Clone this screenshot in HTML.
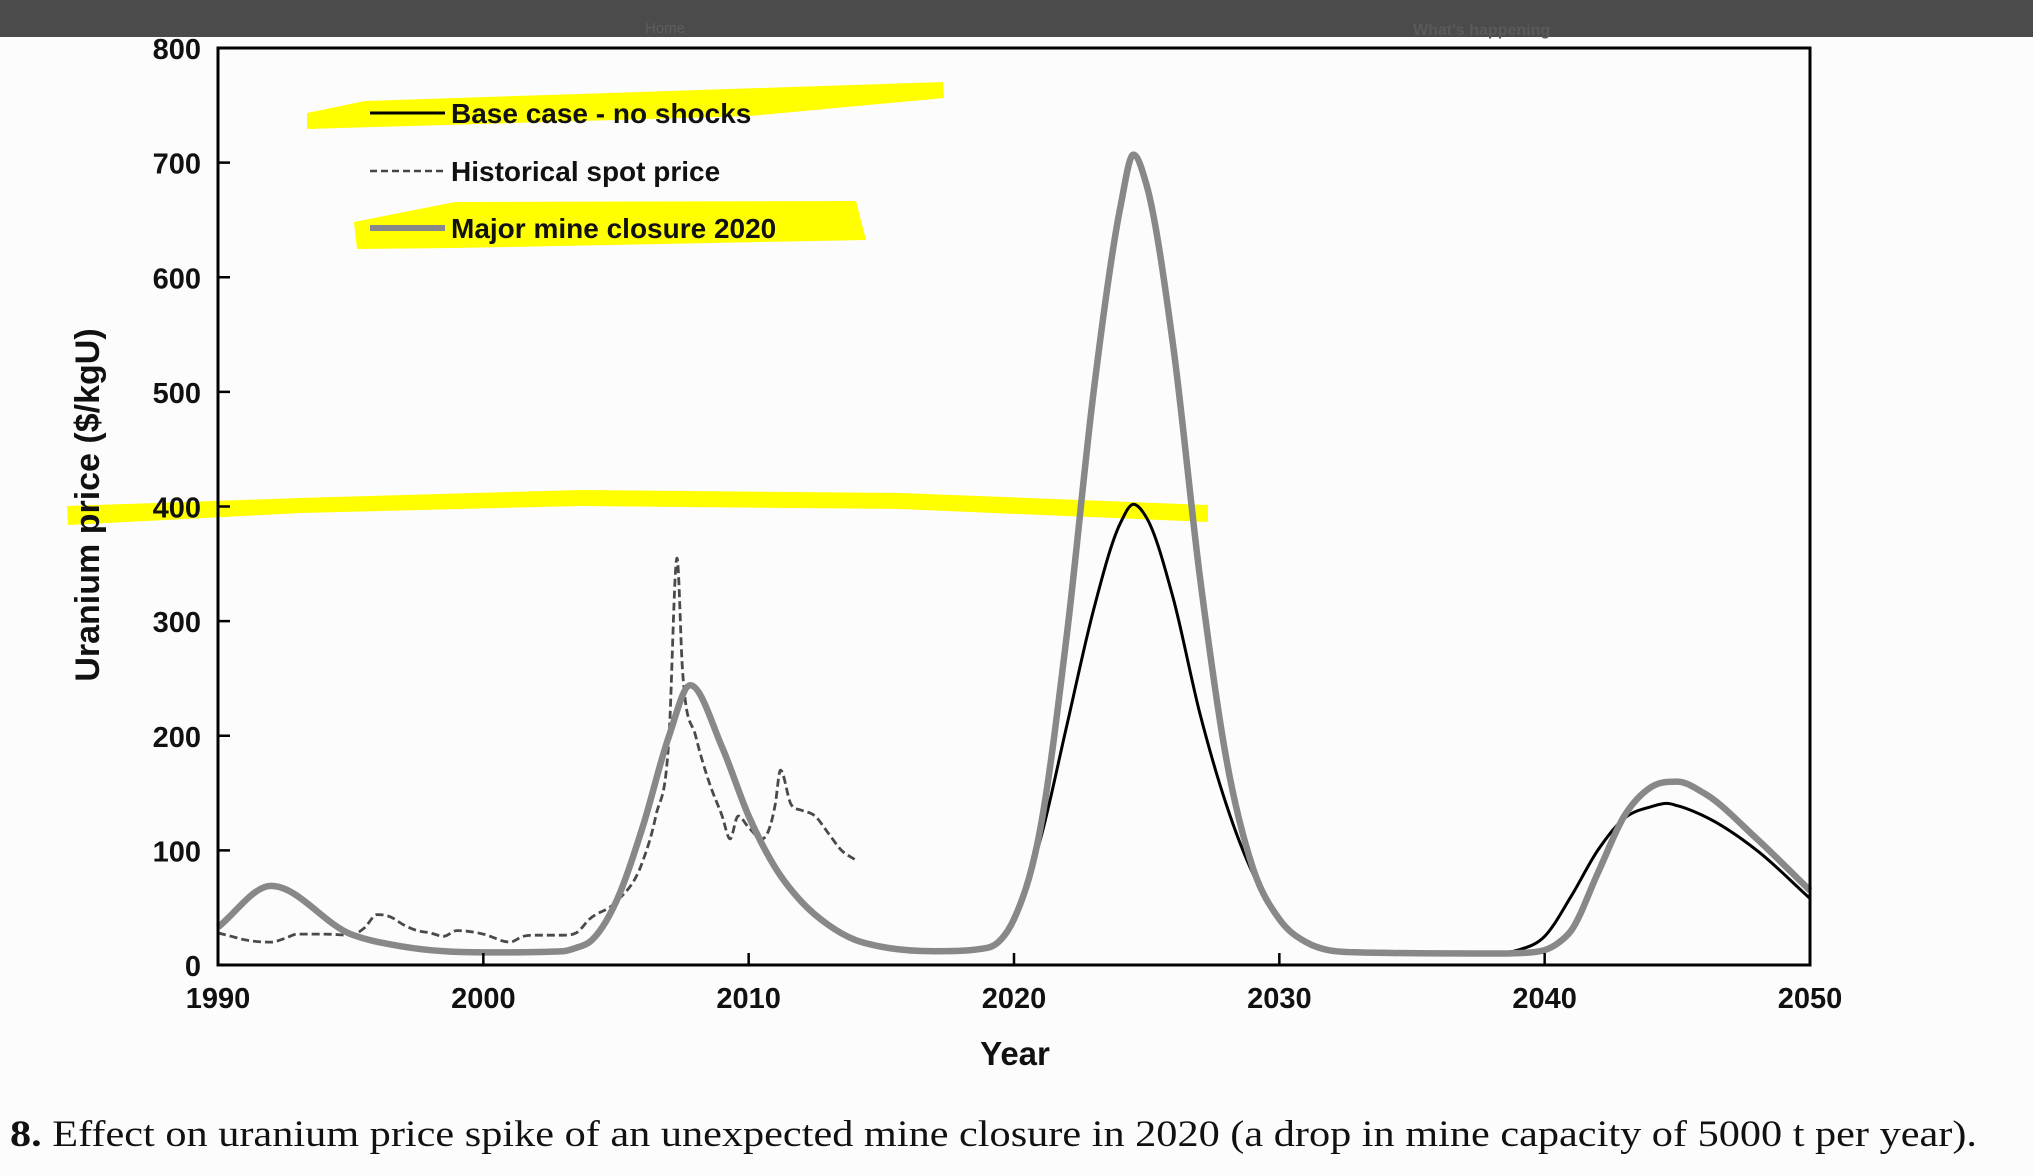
<!DOCTYPE html>
<html><head><meta charset="utf-8">
<style>
html,body{margin:0;padding:0;background:#fff;}
svg{display:block;}
.b{font-family:"Liberation Sans",sans-serif;font-weight:bold;fill:#111;}
</style></head>
<body>
<svg id="chart" width="2033" height="1176" viewBox="0 0 2033 1176" xmlns="http://www.w3.org/2000/svg">
<rect x="0" y="0" width="2033" height="1176" fill="#fdfcfd"/>
<rect x="0" y="0" width="2033" height="37" fill="#4b4b4b"/>
<text x="645" y="33" font-family="Liberation Sans" font-size="15" fill="#5e5e5e">Home</text>
<text x="1413" y="35" font-family="Liberation Sans" font-size="16" font-weight="bold" fill="#5a5a5a">What's happening</text>
<g id="hl" fill="#ffff00">
<path d="M307,113 L365,101 L943,82 L944,98 L750,116 L307,129 Z"/>
<path d="M354,222 L455,202 L856,201 L866,240 L455,248 L357,249 Z"/>
<path d="M67,506 L300,498 L580,490 L900,493 L1208,505 L1208,522 L900,509 L580,506 L300,513 L68,525 Z"/>
</g>
<g id="plot"></g>
<text class="b" font-size="34" transform="translate(99,505) rotate(-90)" text-anchor="middle">Uranium price ($/kgU)</text>
<text class="b" font-size="33" x="1015" y="1065" text-anchor="middle">Year</text>
<text x="10" y="1146" font-family="Liberation Serif" font-size="37" fill="#111" textLength="1967" lengthAdjust="spacingAndGlyphs"><tspan font-weight="bold">8.</tspan> Effect on uranium price spike of an unexpected mine closure in 2020 (a drop in mine capacity of 5000 t per year).</text>
<g>
<line x1="370" y1="113" x2="445" y2="113" stroke="#000" stroke-width="3"/>
<text class="b" font-size="28" x="451" y="123">Base case - no shocks</text>
<line x1="370" y1="171" x2="445" y2="171" stroke="#444" stroke-width="2.5" stroke-dasharray="7,4"/>
<text class="b" font-size="28" x="451" y="181">Historical spot price</text>
<line x1="370" y1="228" x2="445" y2="228" stroke="#888" stroke-width="6"/>
<text class="b" font-size="28" x="451" y="238">Major mine closure 2020</text>
</g>
</svg>
<script>
const xTicks = [1990, 2000, 2010, 2020, 2030, 2040, 2050];
const yTicks = [0, 100, 200, 300, 400, 500, 600, 700, 800];
const closureYears = [1990,1992,1995,1997,2000,2003,2003.5,2004,2005,2006,2007,2007.8,2009,2010,2011,2012,2013,2014,2015,2017,2019,2019.5,2020,2021,2022,2023,2024,2024.5,2025,2026,2027,2028,2029,2030,2031,2033,2038,2039.5,2040,2040.5,2041,2042,2043,2044,2045,2046,2048,2050];
const closureValues = [33,69,27,16,11,12,15,20,55,120,200,244,190,130,85,55,35,22,16,12,15,22,40,120,290,500,660,707,680,540,340,180,85,40,20,11,10,11,13,19,30,80,130,155,160,150,110,65];
const baseYears = [2017,2019,2019.5,2020,2021,2022,2023,2024,2024.5,2025,2026,2027,2028,2029,2030,2031,2033,2038,2039,2040,2041,2042,2043,2044,2044.6,2045,2046,2048,2050];
const baseValues = [12,15,22,40,110,210,310,385,402,390,320,220,140,80,40,20,11,10,13,25,60,100,128,138,141,139,130,100,58];
const histYears = [1990,1990.5,1991,1992,1992.5,1993,1994,1995,1995.5,1996,1996.5,1997,1997.5,1998,1998.5,1999,2000,2001,2001.5,2002,2003,2003.5,2004,2005,2006,2006.5,2007,2007.3,2007.5,2008,2008.5,2009,2009.3,2009.6,2010,2010.5,2011,2011.2,2011.6,2012,2012.5,2013,2013.5,2014];
const histValues = [28,25,22,20,23,27,27,26,32,44,42,35,30,28,25,30,27,20,25,26,26,28,40,55,90,130,200,355,260,200,160,130,110,130,120,110,140,170,140,135,130,115,100,92];

const L=218,R=1810,T=48,B=965;
const xs=y=>L+(y-1990)*(R-L)/60;
const ys=v=>B-v*(B-T)/800;
const NS='http://www.w3.org/2000/svg';
const g=document.getElementById('plot');
function mk(tag,at){const e=document.createElementNS(NS,tag);for(const k in at)e.setAttribute(k,at[k]);g.appendChild(e);return e;}
function smooth(X,V){
  const n=X.length,px=X.map(xs),py=V.map(ys);
  const sec=[];for(let i=0;i<n-1;i++)sec.push((py[i+1]-py[i])/(px[i+1]-px[i]));
  const m=[];for(let i=0;i<n;i++){
    if(i===0)m.push(sec[0]);else if(i===n-1)m.push(sec[n-2]);
    else if(sec[i-1]*sec[i]<=0)m.push(0);
    else{const h0=px[i]-px[i-1],h1=px[i+1]-px[i];m.push((sec[i-1]*h1+sec[i]*h0)/(h0+h1));}
  }
  for(let k=0;k<n-1;k++){
    if(sec[k]===0){m[k]=0;m[k+1]=0;continue;}
    const a=m[k]/sec[k],b=m[k+1]/sec[k],s=a*a+b*b;
    if(s>9){const t=3/Math.sqrt(s);m[k]=t*a*sec[k];m[k+1]=t*b*sec[k];}
  }
  let d='M'+px[0].toFixed(1)+','+py[0].toFixed(1);
  for(let i=0;i<n-1;i++){const h=(px[i+1]-px[i])/3;
    d+=' C'+(px[i]+h).toFixed(1)+','+(py[i]+m[i]*h).toFixed(1)+' '+(px[i+1]-h).toFixed(1)+','+(py[i+1]-m[i+1]*h).toFixed(1)+' '+px[i+1].toFixed(1)+','+py[i+1].toFixed(1);}
  return d;}

let e;
e=mk('path',{d:smooth(histYears,histValues),fill:'none',stroke:'#4a4a4a','stroke-width':2.8,'stroke-dasharray':'8,4'});


e=mk('path',{d:smooth(baseYears,baseValues),fill:'none',stroke:'#000','stroke-width':3});


e=mk('path',{d:smooth(closureYears,closureValues),fill:'none',stroke:'#888','stroke-width':6.5,'stroke-linejoin':'round'});



e=mk('rect',{x:L,y:T,width:R-L,height:B-T,fill:'none',stroke:'#000','stroke-width':3});


xTicks.forEach(t=>{
  e=mk('line',{x1:xs(t),x2:xs(t),y1:B,y2:B-12,stroke:'#000','stroke-width':2.5});
  
  
  e=mk('text',{x:xs(t),y:B+43,'text-anchor':'middle',class:'b','font-size':29});
  e.textContent=t;
  
  
});
yTicks.forEach(t=>{
  e=mk('line',{x1:L,x2:L+12,y1:ys(t),y2:ys(t),stroke:'#000','stroke-width':2.5});
  
  
  e=mk('text',{x:201,y:ys(t)+11,'text-anchor':'end',class:'b','font-size':29});
  e.textContent=t;
  
  
});
</script>
</body></html>
